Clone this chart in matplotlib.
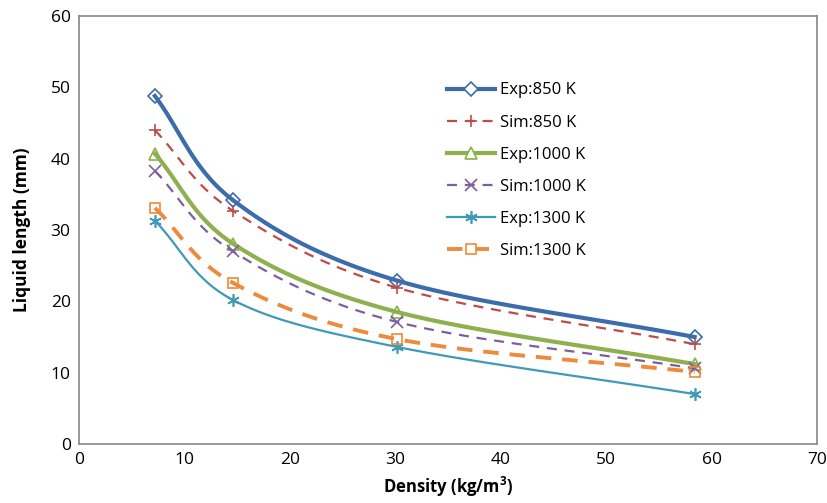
import numpy as np
import matplotlib
matplotlib.use('Agg')
import matplotlib.pyplot as plt

plt.rcParams['font.family'] = ['Open Sans', 'DejaVu Sans']

# densities (kg/m3) and liquid lengths (mm)
density = [7.2, 14.6, 30.2, 58.4]
exp_850 = [48.8, 34.2, 22.9, 15.0]
sim_850 = [44.0, 32.7, 21.9, 14.0]
exp_1000 = [40.7, 28.1, 18.5, 11.2]
sim_1000 = [38.3, 27.0, 17.1, 10.6]
exp_1300 = [31.3, 20.2, 13.6, 7.0]
sim_1300 = [33.1, 22.6, 14.7, 10.1]


def smooth(xs, ys, n=40):
    # catmull-rom curve through the points, like a spreadsheet "smoothed line"
    xs = np.asarray(xs, float)
    ys = np.asarray(ys, float)
    px = np.concatenate([[2 * xs[0] - xs[1]], xs, [2 * xs[-1] - xs[-2]]])
    py = np.concatenate([[2 * ys[0] - ys[1]], ys, [2 * ys[-1] - ys[-2]]])
    outx, outy = [], []
    t = np.linspace(0, 1, n)
    for i in range(1, len(px) - 2):
        for p, out in ((px, outx), (py, outy)):
            p0, p1, p2, p3 = p[i - 1], p[i], p[i + 1], p[i + 2]
            out.extend(0.5 * ((2 * p1) + (-p0 + p2) * t
                              + (2 * p0 - 5 * p1 + 4 * p2 - p3) * t ** 2
                              + (-p0 + 3 * p1 - 3 * p2 + p3) * t ** 3))
    return outx, outy


series = [
    ('Exp:850 K', exp_850, '#3C6DAA', 3.0, '-', 'D', 7),
    ('Sim:850 K', sim_850, '#BE4B48', 1.6, (0, (4.5, 3.5)), '+', 9),
    ('Exp:1000 K', exp_1000, '#8EB04E', 3.0, '-', '^', 8),
    ('Sim:1000 K', sim_1000, '#7D5FA0', 1.6, (0, (4.5, 3.5)), 'x', 8),
    ('Exp:1300 K', exp_1300, '#3F9AB8', 1.6, '-', (6, 2, 0), 9),
    ('Sim:1300 K', sim_1300, '#EE8A3C', 2.8, (0, (4, 2.8)), 's', 7),
]

fig = plt.figure(figsize=(8.28, 5.03), dpi=100)
ax = fig.add_axes([0.0954, 0.1173, 0.8913, 0.8507])

for label, ys, color, lw, ls, marker, ms in series:
    sx, sy = smooth(density, ys)
    ax.plot(sx, sy, color=color, lw=lw, ls=ls)
    ax.plot(density, ys, ls='none', marker=marker, ms=ms, mec=color,
            mfc='none', mew=1.2)
    # legend proxy: line with marker in the middle
    ax.plot([], [], color=color, lw=lw, ls=ls, marker=marker, ms=ms,
            mec=color, mfc='white', mew=1.2, label=label)

ax.set_xlim(0, 70)
ax.set_ylim(0, 60)
ax.set_xticks(range(0, 71, 10))
ax.set_yticks(range(0, 61, 10))
ax.tick_params(length=0, labelsize=12.5, pad=6, colors='black')
for sp in ax.spines.values():
    sp.set_color('#868686')
    sp.set_linewidth(1.2)

ax.set_xlabel('Density (kg/m$^\\mathregular{3}$)', fontsize=12, fontweight='bold',
              labelpad=5)
ax.set_ylabel('Liquid length (mm)', fontsize=12.5, fontweight='bold', labelpad=14)

ax.legend(loc='upper left', bbox_to_anchor=(0.54, 0.836),
          bbox_transform=fig.transFigure, frameon=False, fontsize=12,
          handlelength=2.9, handletextpad=0.3, labelspacing=0.97,
          borderpad=0, borderaxespad=0)

fig.savefig('out.png', dpi=100)
